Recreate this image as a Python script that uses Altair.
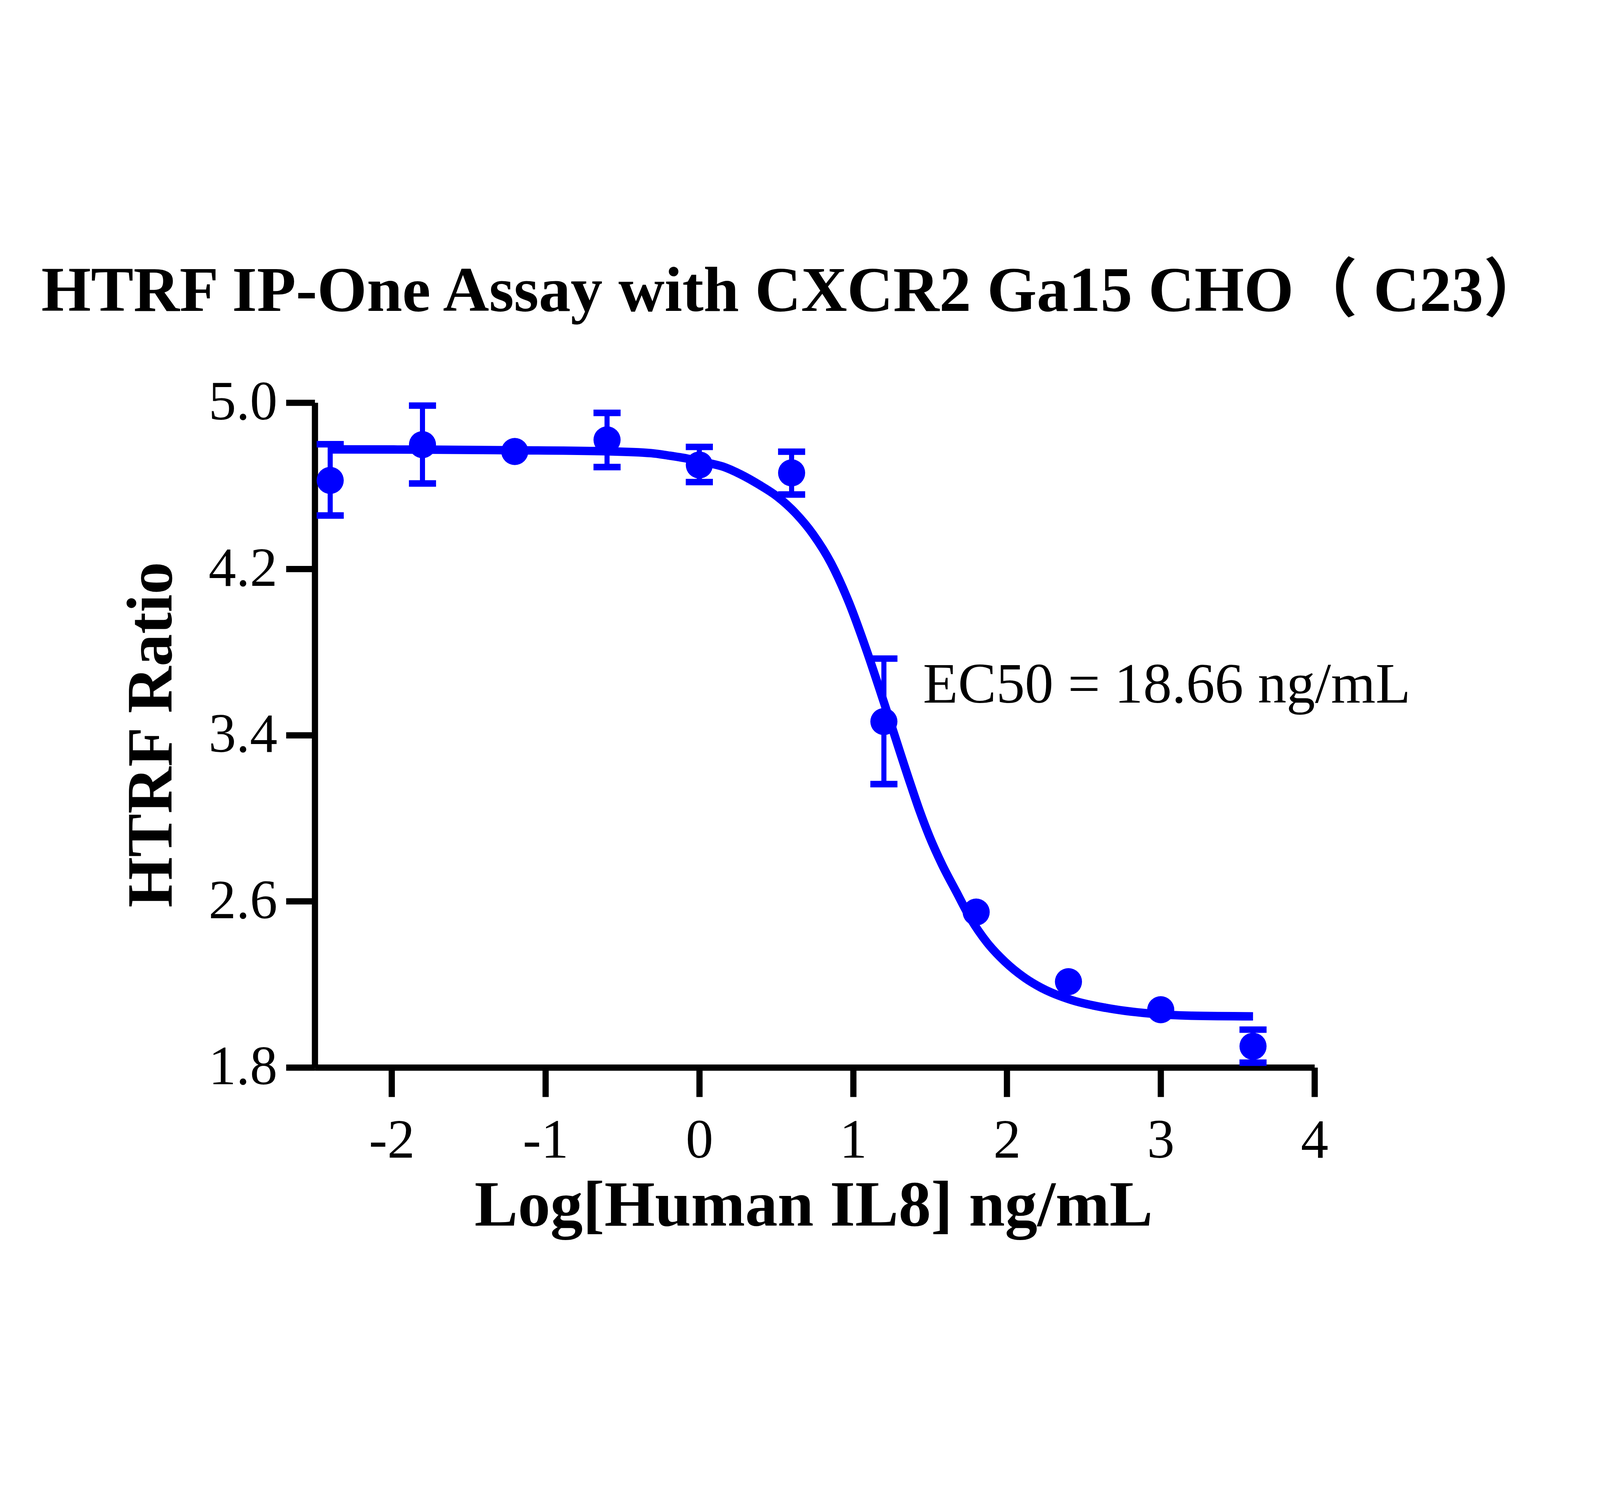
import altair as alt
import pandas as pd

# ---- data ----
dose_log = [-2.4, -1.8, -1.2, -0.6, 0.0, 0.6, 1.2, 1.8, 2.4, 3.0, 3.6]
ratio_mean = [4.626, 4.798, 4.765, 4.821, 4.700, 4.662, 3.465, 2.548, 2.213, 2.078, 1.902]
err_low = [4.457, 4.611, None, 4.690, 4.618, 4.558, 3.164, None, None, None, 1.823]
err_high = [4.800, 4.986, None, 4.951, 4.787, 4.764, 3.768, None, None, None, 1.982]

# fitted curve
curve_x = [-2.4, -1.8, -1.2, -0.6, -0.313, -0.196, -0.079, 0.037, 0.154, 0.271, 0.389,
           0.505, 0.622, 0.739, 0.856, 0.973, 1.089, 1.195, 1.373, 1.432, 1.496, 1.578,
           1.672, 1.765, 1.870, 1.987, 2.115, 2.222, 2.418, 2.642, 2.922, 3.203, 3.6]
curve_y = [4.775, 4.774, 4.771, 4.766, 4.757, 4.745, 4.731, 4.713, 4.692, 4.654, 4.605,
           4.549, 4.471, 4.367, 4.228, 4.038, 3.804, 3.569, 3.164, 3.036, 2.912, 2.777,
           2.644, 2.515, 2.402, 2.309, 2.232, 2.184, 2.125, 2.087, 2.060, 2.049, 2.046]

x_ticks = [-2, -1, 0, 1, 2, 3, 4]
y_ticks = [1.8, 2.6, 3.4, 4.2, 5.0]

title_text = "HTRF IP-One Assay with CXCR2 Ga15 CHO\uff08 C23\uff09"
x_title = "Log[Human IL8] ng/mL"
y_title = "HTRF Ratio"
ec50_text = "EC50 = 18.66 ng/mL"
ec50_pos = (1.454, 3.557)

# ---- tables ----
pts = pd.DataFrame({"x": dose_log, "y": ratio_mean})
err = pd.DataFrame({"x": dose_log, "lo": err_low, "hi": err_high}).dropna()
curve = pd.DataFrame({"x": curve_x, "y": curve_y})
ann = pd.DataFrame({"x": [ec50_pos[0]], "y": [ec50_pos[1]], "t": [ec50_text]})
ttl = pd.DataFrame({"t": [title_text]})

BLUE = "#0000FF"
SERIF = "Liberation Serif, Times New Roman, Noto Sans CJK SC, serif"
W, H = 3541, 2355

xscale = alt.Scale(domain=[-2.5, 4], nice=False, zero=False)
yscale = alt.Scale(domain=[1.8, 5.0], nice=False, zero=False)

xaxis = alt.Axis(
    values=x_ticks, labelExpr="datum.value + ''", grid=False,
    domainColor="black", domainWidth=22, tickColor="black", tickWidth=22, tickSize=104,
    labelFont=SERIF, labelFontSize=195, labelColor="black", labelPadding=215,
    labelBaseline="alphabetic", labelFlush=False, labelOverlap=False, labelLimit=0,
    title=x_title, titleFont=SERIF, titleFontSize=230, titleFontWeight="bold",
    titleColor="black", titleBaseline="alphabetic", titleX=W / 2 - 4, titleY=560,
    titleAlign="center", titleLimit=0,
)
yaxis = alt.Axis(
    values=y_ticks, format=".1f", grid=False,
    domainColor="black", domainWidth=22, tickColor="black", tickWidth=22, tickSize=102,
    labelFont=SERIF, labelFontSize=195, labelColor="black", labelPadding=31,
    labelFlush=False, labelOverlap=False, labelLimit=0,
    title=y_title, titleFont=SERIF, titleFontSize=230, titleFontWeight="bold",
    titleColor="black", titleBaseline="alphabetic", titleAngle=270,
    titleX=-508, titleY=H / 2 - 2, titleAlign="center", titleLimit=0,
)

base_x = alt.X("x:Q", scale=xscale, axis=xaxis)
base_y = alt.Y("y:Q", scale=yscale, axis=yaxis)

line = alt.Chart(curve).mark_line(color=BLUE, strokeWidth=30, interpolate="monotone").encode(
    x=base_x, y=base_y
)
stems = alt.Chart(err).mark_rule(color=BLUE, strokeWidth=18).encode(
    x=alt.X("x:Q", scale=xscale), y=alt.Y("lo:Q", scale=yscale), y2="hi:Q"
)
cap_lo = alt.Chart(err).mark_tick(color=BLUE, orient="horizontal", size=96, thickness=23, opacity=1).encode(
    x=alt.X("x:Q", scale=xscale), y=alt.Y("lo:Q", scale=yscale)
)
cap_hi = alt.Chart(err).mark_tick(color=BLUE, orient="horizontal", size=96, thickness=23, opacity=1).encode(
    x=alt.X("x:Q", scale=xscale), y=alt.Y("hi:Q", scale=yscale)
)
dots = alt.Chart(pts).mark_circle(color=BLUE, size=9216, opacity=1).encode(
    x=alt.X("x:Q", scale=xscale), y=alt.Y("y:Q", scale=yscale)
)
label = alt.Chart(ann).mark_text(
    font=SERIF, fontSize=203, color="black", align="left", baseline="alphabetic"
).encode(x=alt.X("x:Q", scale=xscale), y=alt.Y("y:Q", scale=yscale), text="t:N")
title = alt.Chart(ttl).mark_text(
    font=SERIF, fontSize=226, fontWeight="bold", color="black", align="center", baseline="alphabetic"
).encode(x=alt.value(1698), y=alt.value(-325), text="t:N")

chart = alt.layer(line, stems, cap_lo, cap_hi, dots, label, title).properties(
    width=W, height=H,
    autosize=alt.AutoSizeParams(type="none"),
    padding={"left": 1104, "top": 696, "right": 1000, "bottom": 700},
).configure(background="white").configure_view(stroke=None)

chart.save("out.html", embed_options={"renderer": "svg", "actions": False})
